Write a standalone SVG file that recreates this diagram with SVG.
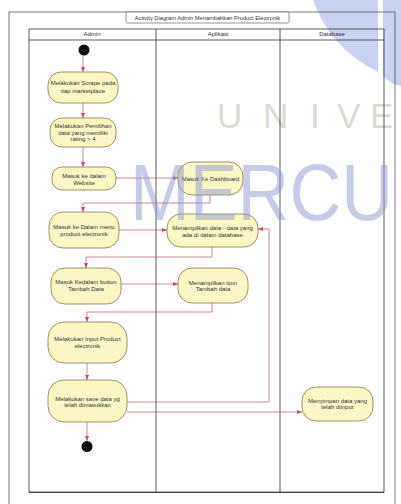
<svg xmlns="http://www.w3.org/2000/svg" width="401" height="504" viewBox="0 0 401 504">
<style>
.frame{fill:none;stroke:#555;stroke-width:0.8}
.lane{fill:none;stroke:#333;stroke-width:0.8}
.node{fill:#fbf7c4;stroke:#8a7444;stroke-width:0.8}
.t{font-family:"Liberation Sans",Arial,sans-serif;font-size:6px;fill:#333;text-anchor:middle}
.hd{font-family:"Liberation Sans",Arial,sans-serif;font-size:6px;fill:#333;text-anchor:middle}
.c{fill:none;stroke:#b8506a;stroke-width:0.7}
.wm1{font-family:"Liberation Sans",Arial,sans-serif;font-size:35px;fill:#d8ddd4}
.wm2{font-family:"Liberation Sans",Arial,sans-serif;font-size:80px;fill:#8e9bcf;opacity:0.5}
</style>
<defs>
<marker id="ah" markerUnits="userSpaceOnUse" markerWidth="5" markerHeight="4" refX="5" refY="2" orient="auto">
<path d="M0,0 L5,2 L0,4 z" fill="#b8506a"/>
</marker>
</defs>
<rect width="401" height="504" fill="#fff"/>
<!-- watermark background shapes -->
<g id="wm-shapes" fill="#c9d2ee">
<path d="M313,0 Q330,48 378,72 L378,0 Z"/>
<path d="M383,0 L401,0 L401,86 Q390,84 383,76 Z"/>
</g>
<g id="watermark-univ">
<text class="wm1" x="217" y="128">U</text>
<text class="wm1" x="263" y="128">N</text>
<text class="wm1" x="310" y="128">I</text>
<text class="wm1" x="337" y="128">V</text>
<text class="wm1" x="370" y="128">E</text>
</g>
<!-- frame -->
<rect class="frame" x="9" y="12" width="386" height="500"/>
<g id="title">
<rect x="126" y="12" width="163" height="11" fill="#fff" stroke="#666" stroke-width="0.7" rx="1.5"/>
<text class="hd" x="207.5" y="19.5" style="font-size:5.7px">Activity Diagram Admin Menambahkan Product Electronik</text>
</g>
<g id="pool">
<rect class="lane" x="29" y="29" width="355" height="463"/>
<line class="lane" x1="29" y1="40" x2="384" y2="40"/>
<line class="lane" x1="156" y1="29" x2="156" y2="492"/>
<line class="lane" x1="280" y1="29" x2="280" y2="492"/>
<line x1="29" y1="492.5" x2="384" y2="492.5" stroke="#444" stroke-width="1"/>
<text class="hd" x="92" y="35.5">Admin</text>
<text class="hd" x="218" y="35.5">Aplikasi</text>
<text class="hd" x="332" y="35.5">Database</text>
</g>
<g id="connectors">
<path class="c" marker-end="url(#ah)" d="M83,56 V72"/>
<path class="c" marker-end="url(#ah)" d="M83,103 V118"/>
<path class="c" marker-end="url(#ah)" d="M83,147 V167"/>
<path class="c" marker-end="url(#ah)" d="M116,178 H178"/>
<path class="c" marker-end="url(#ah)" d="M210,195 V203 H83 V212"/>
<path class="c" marker-end="url(#ah)" d="M119,230 H167"/>
<path class="c" marker-end="url(#ah)" d="M212,247 V257 H86 V268"/>
<path class="c" marker-end="url(#ah)" d="M121,284 H178"/>
<path class="c" marker-end="url(#ah)" d="M212,303 V312 H87 V322"/>
<path class="c" marker-end="url(#ah)" d="M87,363 V380"/>
<path class="c" marker-end="url(#ah)" d="M127,402 H269 V229 H258"/>
<path class="c" marker-end="url(#ah)" d="M127,412 H302"/>
<path class="c" marker-end="url(#ah)" d="M87,422 V441"/>
</g>
<g id="start"><circle cx="84" cy="50" r="5.5" fill="#111"/></g>
<g id="n1">
<rect class="node" x="48" y="72" width="70" height="31" rx="13"/>
<text class="t" x="83" y="85">Melakukan Scrape pada</text>
<text class="t" x="83" y="92.5">tiap marketplace</text>
</g>
<g id="n2">
<rect class="node" x="50" y="118" width="66" height="29" rx="12"/>
<text class="t" x="83" y="128">Melakukan Pemilihan</text>
<text class="t" x="83" y="134.5">data yang memiliki</text>
<text class="t" x="83" y="141">rating &gt; 4</text>
</g>
<g id="n3">
<rect class="node" x="52" y="167" width="64" height="23" rx="10"/>
<text class="t" x="84" y="177.5">Masuk ke dalam</text>
<text class="t" x="84" y="184.5">Website</text>
</g>
<g id="n4">
<rect class="node" x="49" y="212" width="70" height="36" rx="14"/>
<text class="t" x="84" y="228.5">Masuk ke Dalam menu</text>
<text class="t" x="84" y="235.5">product electronik</text>
</g>
<g id="n5">
<rect class="node" x="51" y="268" width="70" height="36" rx="14"/>
<text class="t" x="86" y="284">Masuk Kedalam button</text>
<text class="t" x="86" y="291">Tambah Data</text>
</g>
<g id="n6">
<rect class="node" x="48" y="322" width="79" height="41" rx="16"/>
<text class="t" x="87.5" y="341">Melakukan Input Product</text>
<text class="t" x="87.5" y="347.5">electronik</text>
</g>
<g id="n7">
<rect class="node" x="48" y="380" width="79" height="42" rx="16"/>
<text class="t" x="87.5" y="400.5">Melakukan save data yg</text>
<text class="t" x="87.5" y="407">telah dimasukkan</text>
</g>
<g id="end"><circle cx="87" cy="446.5" r="5.5" fill="#111"/></g>
<g id="a1">
<rect class="node" x="178" y="162" width="65" height="33" rx="14"/>
<text class="t" x="210.5" y="180.5">Masuk Ke Dashboard</text>
</g>
<g id="a2">
<rect class="node" x="167" y="214" width="91" height="33" rx="14"/>
<text class="t" x="212.5" y="230">Menampilkan data - data yang</text>
<text class="t" x="212.5" y="236.5">ada di dalam database</text>
</g>
<g id="a3">
<rect class="node" x="178" y="268" width="70" height="35" rx="14"/>
<text class="t" x="213" y="284.5">Menampilkan icon</text>
<text class="t" x="213" y="291">Tambah data</text>
</g>
<g id="d1">
<rect class="node" x="302" y="387" width="71" height="34" rx="14"/>
<text class="t" x="337.5" y="402.5">Menyimpan data yang</text>
<text class="t" x="337.5" y="409">telah diinput</text>
</g>
<g id="watermark-mercu">
<text class="wm2" x="130" y="220" textLength="263" lengthAdjust="spacingAndGlyphs">MERCU</text>
</g>
</svg>
